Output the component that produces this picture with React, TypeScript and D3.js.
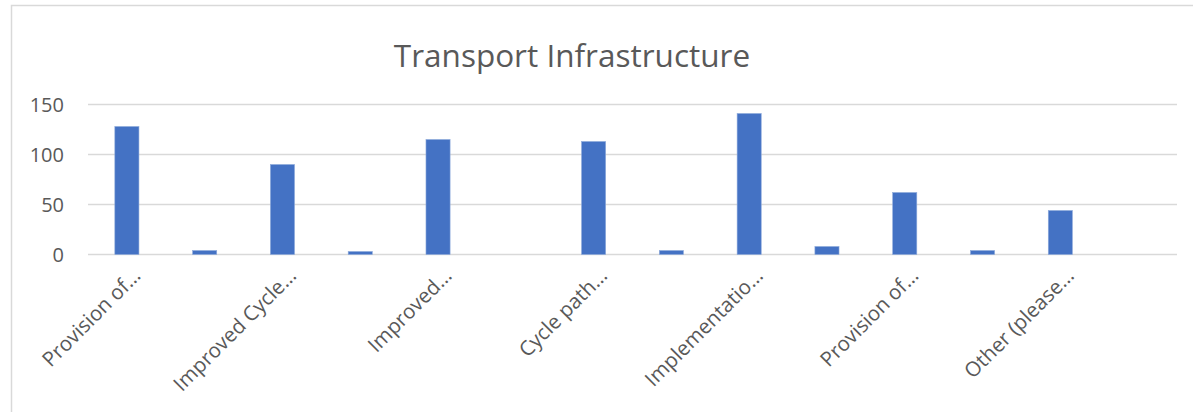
import React, { useEffect, useRef } from 'react';
import * as d3 from 'd3';

// 14 categories, only every second one gets a label in the source chart
const categories = [
  'Provision of…', 'c2', 'Improved Cycle…', 'c4', 'Improved…', 'c6', 'Cycle path…',
  'c8', 'Implementatio…', 'c10', 'Provision of…', 'c12', 'Other (please…', 'c14',
];
const values = [128, 4, 90, 3, 115, 0, 113, 4, 141, 8, 62, 4, 44, 0];
const yTicks = [0, 50, 100, 150];

const App = () => {
  const svgRef = useRef(null);

  useEffect(() => {
    const width = 1193;
    const height = 412;
    const margin = { top: 104.5, right: 16, bottom: 157.5, left: 88 };

    const svg = d3.select(svgRef.current);
    svg.selectAll('*').remove();
    svg.attr('viewBox', [0, 0, width, height]);

    const font = '"Open Sans", sans-serif';
    const textColor = '#595959';

    // Chart area border
    svg.append('rect')
      .attr('x', 11.5)
      .attr('y', 5.5)
      .attr('width', width + 20)
      .attr('height', height + 20)
      .attr('fill', 'white')
      .attr('stroke', '#d9d9d9')
      .attr('stroke-width', 1.5);

    // Title
    svg.append('text')
      .attr('x', 572)
      .attr('y', 67)
      .attr('text-anchor', 'middle')
      .attr('font-family', font)
      .attr('font-size', 31.5)
      .attr('fill', textColor)
      .text('Transport Infrastructure');

    const x = d3.scaleBand()
      .domain(categories.map((d, i) => String(i)))
      .range([margin.left, width - margin.right])
      .paddingInner(0.69)
      .paddingOuter(0.345);

    const y = d3.scaleLinear()
      .domain([0, 150])
      .range([height - margin.bottom, margin.top]);

    // Grid lines
    svg.append('g')
      .selectAll('line')
      .data(yTicks)
      .join('line')
      .attr('x1', margin.left)
      .attr('x2', width - margin.right)
      .attr('y1', d => y(d))
      .attr('y2', d => y(d))
      .attr('stroke', '#d9d9d9')
      .attr('stroke-width', 1.5);

    // Y tick labels
    svg.append('g')
      .selectAll('text')
      .data(yTicks)
      .join('text')
      .attr('x', 64)
      .attr('y', d => y(d) + 7)
      .attr('text-anchor', 'end')
      .attr('font-family', font)
      .attr('font-size', 20)
      .attr('fill', textColor)
      .text(d => d);

    // Bars
    svg.append('g')
      .selectAll('rect')
      .data(values)
      .join('rect')
      .attr('x', (d, i) => x(String(i)))
      .attr('y', d => y(d))
      .attr('width', x.bandwidth())
      .attr('height', d => y(0) - y(d))
      .attr('fill', '#4472c4')
      .attr('stroke', '#8eaadb')
      .attr('stroke-width', 0.6);

    // Category labels (every second)
    svg.append('g')
      .selectAll('text')
      .data(categories.filter((d, i) => i % 2 === 0))
      .join('text')
      .attr('transform', (d, i) => {
        const cx = x(String(i * 2)) + x.bandwidth() / 2 + 15;
        return `translate(${cx},277) rotate(-45)`;
      })
      .attr('text-anchor', 'end')
      .attr('font-family', font)
      .attr('font-size', 20.5)
      .attr('fill', textColor)
      .text(d => d);
  }, []);

  return (
    <svg ref={svgRef} width={1193} height={412}
      style={{ position: 'absolute', left: 0, top: 0, display: 'block' }}></svg>
  );
};

export default App;
